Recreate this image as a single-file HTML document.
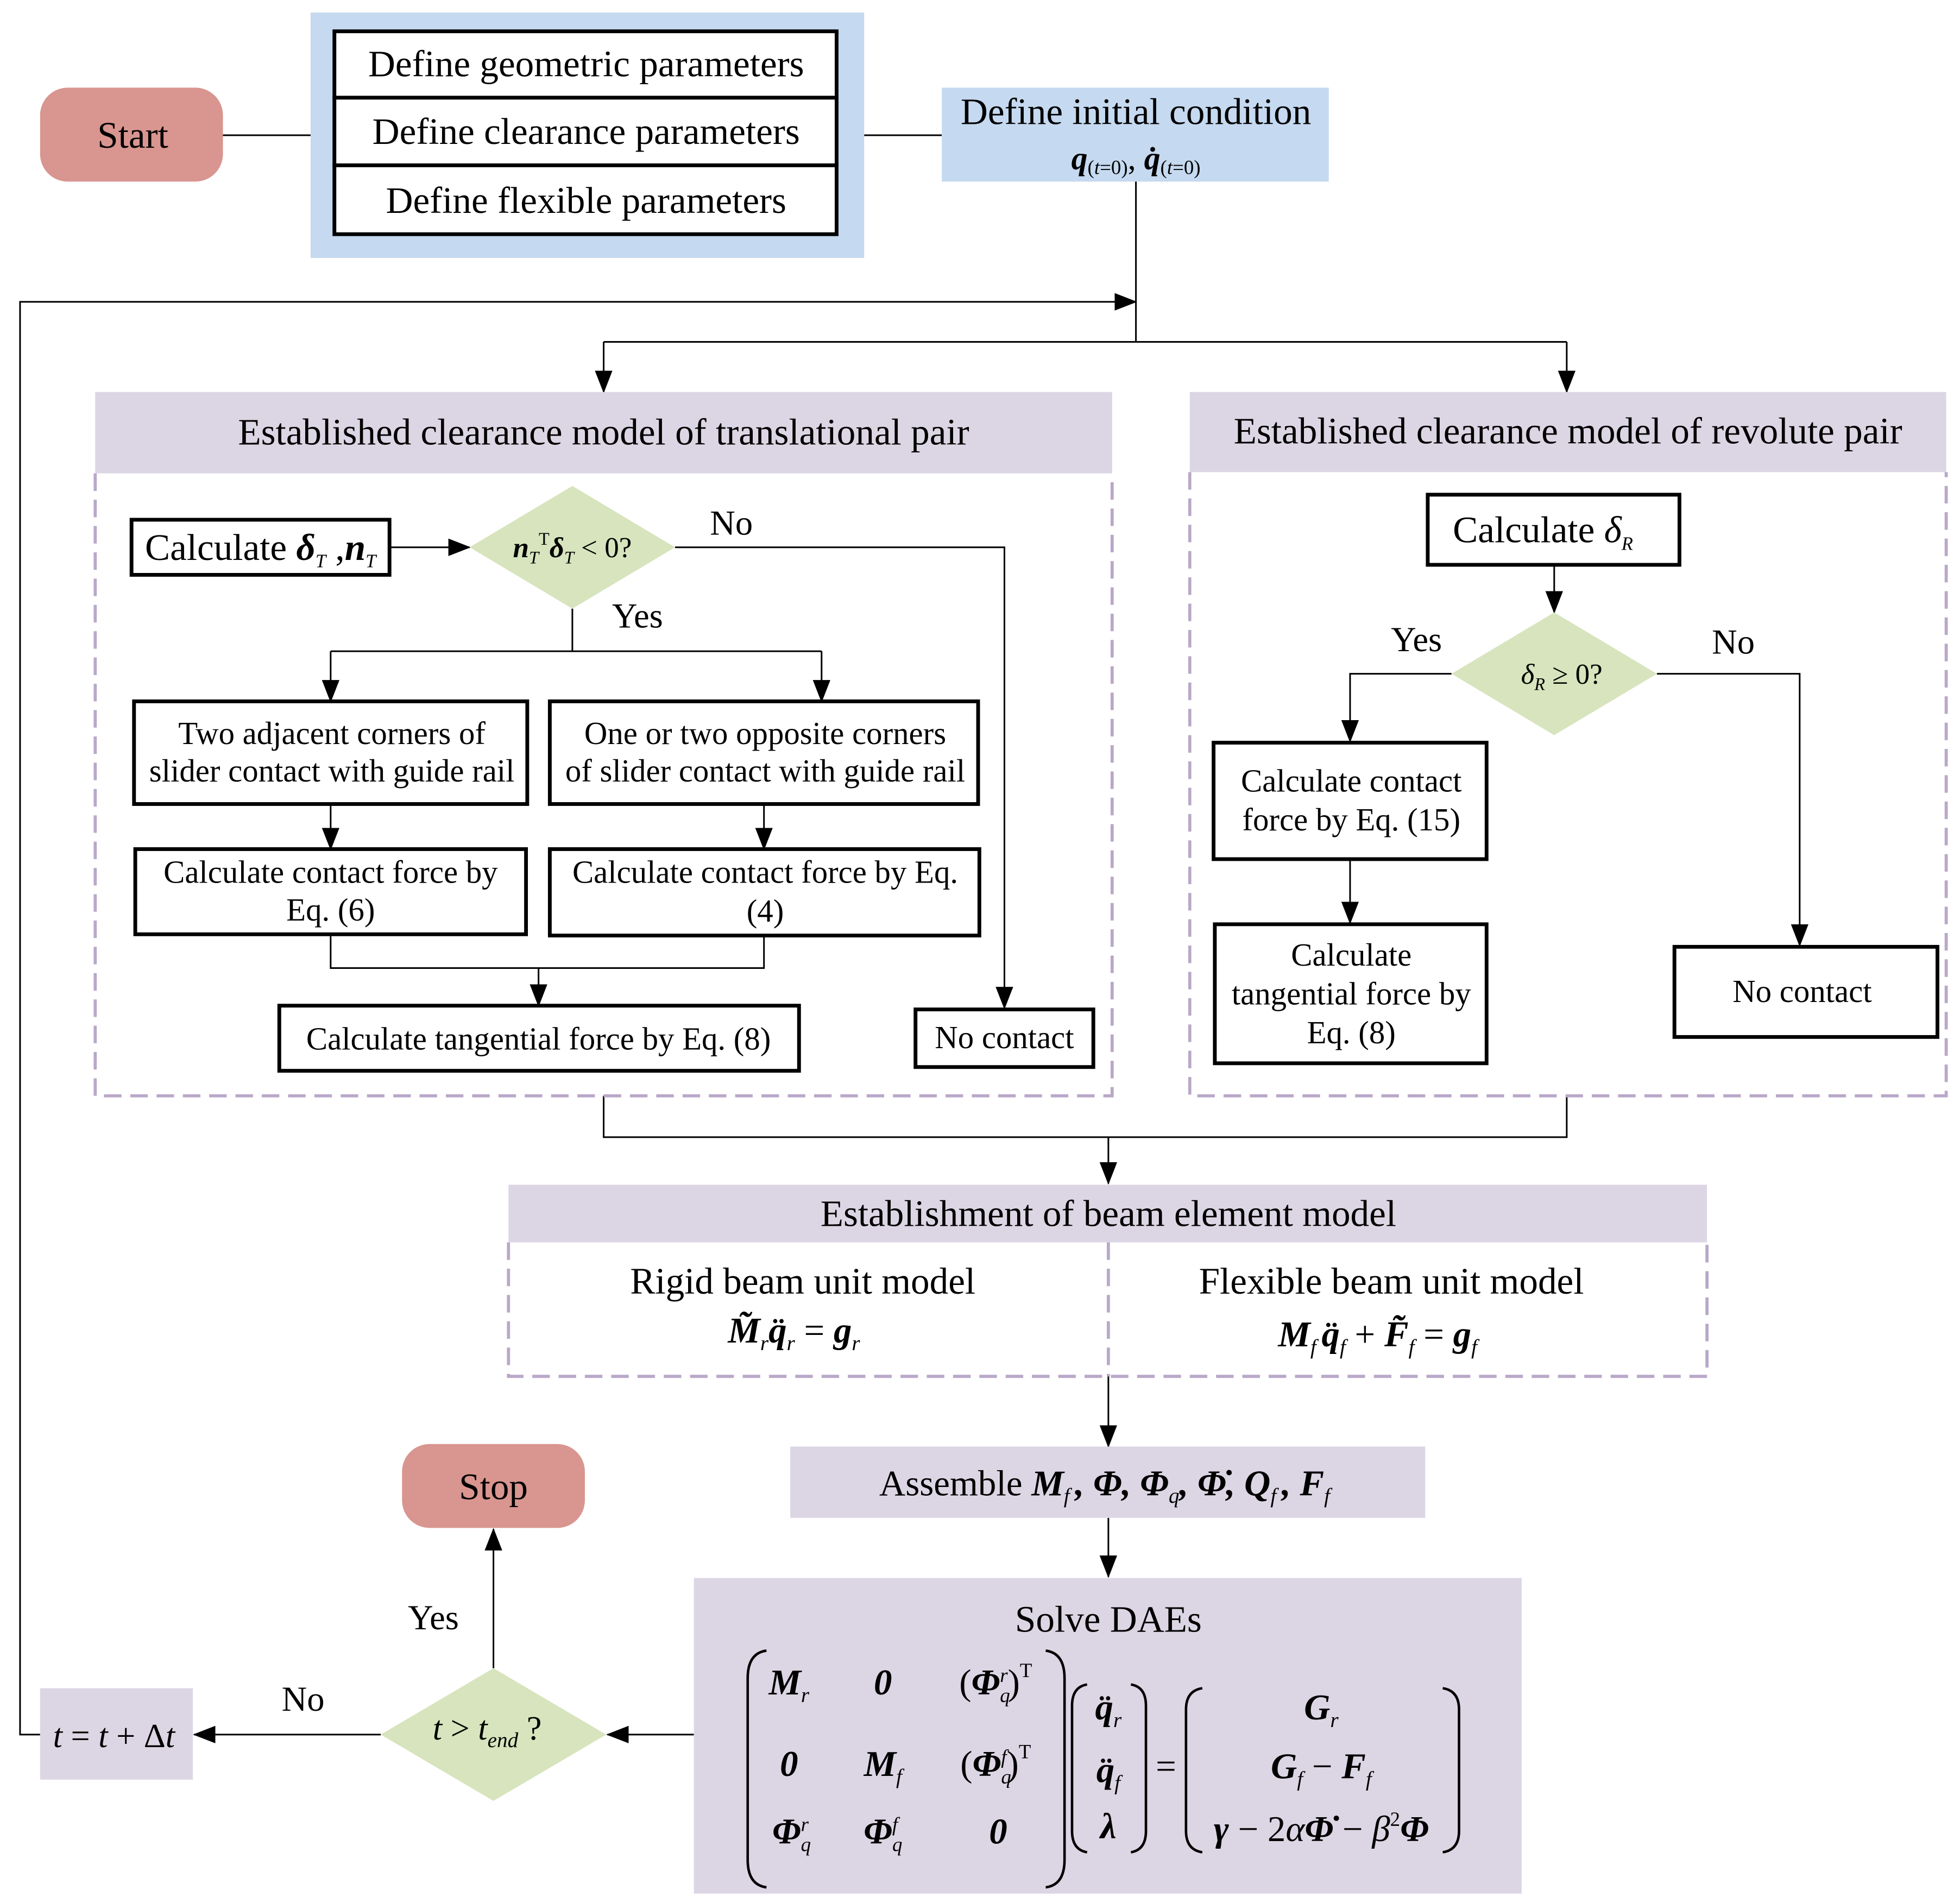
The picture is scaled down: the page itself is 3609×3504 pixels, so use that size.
<!DOCTYPE html>
<html><head><meta charset="utf-8"><style>html,body{margin:0;padding:0;background:#fff}svg{display:block}</style></head><body>
<svg xmlns="http://www.w3.org/2000/svg" width="3609" height="3504" viewBox="0 0 1565 1519.5" font-family="Liberation Serif, serif">
<defs><marker id="b" markerWidth="18" markerHeight="14" refX="17" refY="7" orient="auto" markerUnits="userSpaceOnUse"><path d="M0,0 L18,7 L0,14 z" fill="#000"/></marker></defs>
<g stroke="#000" stroke-width="1.3" fill="none">
<line x1="178" y1="108" x2="248" y2="108"/><line x1="690" y1="108" x2="752" y2="108"/>
<polyline points="907,145 907,273"/>
<polyline points="32,1385 16,1385 16,241 907,241" marker-end="url(#b)"/>
<line x1="482" y1="273" x2="1251" y2="273"/>
<line x1="482" y1="273" x2="482" y2="313" marker-end="url(#b)"/>
<line x1="1251" y1="273" x2="1251" y2="313" marker-end="url(#b)"/>
<line x1="311" y1="437" x2="375" y2="437" marker-end="url(#b)"/>
<polyline points="539,437 802,437 802,805" marker-end="url(#b)"/>
<polyline points="457,486 457,520"/><line x1="264" y1="520" x2="656" y2="520"/>
<line x1="264" y1="520" x2="264" y2="560" marker-end="url(#b)"/>
<line x1="656" y1="520" x2="656" y2="560" marker-end="url(#b)"/>
<line x1="264" y1="642" x2="264" y2="678" marker-end="url(#b)"/>
<line x1="610" y1="642" x2="610" y2="678" marker-end="url(#b)"/>
<polyline points="264,746 264,773 610,773 610,747"/>
<line x1="430" y1="773" x2="430" y2="803" marker-end="url(#b)"/>
<line x1="1241" y1="451" x2="1241" y2="489" marker-end="url(#b)"/>
<polyline points="1159,538 1078,538 1078,592" marker-end="url(#b)"/>
<polyline points="1323,538 1437,538 1437,755" marker-end="url(#b)"/>
<line x1="1078" y1="686" x2="1078" y2="737" marker-end="url(#b)"/>
<polyline points="482,875 482,908 1251,908 1251,875"/>
<line x1="885" y1="908" x2="885" y2="945" marker-end="url(#b)"/>
<line x1="885" y1="1099" x2="885" y2="1155" marker-end="url(#b)"/>
<line x1="885" y1="1212" x2="885" y2="1259" marker-end="url(#b)"/>
<line x1="554" y1="1385" x2="485" y2="1385" marker-end="url(#b)"/>
<line x1="394" y1="1332" x2="394" y2="1221" marker-end="url(#b)"/>
<line x1="304" y1="1385" x2="155" y2="1385" marker-end="url(#b)"/>
</g>
<rect x="32" y="70" width="146" height="75" rx="22" fill="#d9958f"/>
<rect x="321" y="1153" width="146" height="67" rx="22" fill="#d9958f"/>
<rect x="248" y="10" width="442" height="196" fill="#c5d9f0"/>
<g fill="#fff" stroke="#000" stroke-width="3"><rect x="267" y="25" width="401" height="53"/><rect x="267" y="78" width="401" height="54"/><rect x="267" y="132" width="401" height="55"/></g>
<rect x="752" y="70" width="309" height="75" fill="#c5d9f0"/>
<g fill="#dcd6e4"><rect x="76" y="313" width="812" height="65"/><rect x="950" y="313" width="604" height="64"/><rect x="406" y="946" width="957" height="46"/><rect x="631" y="1155" width="507" height="57"/><rect x="554" y="1260" width="661" height="252"/><rect x="32" y="1348" width="122" height="73"/></g>
<g fill="none" stroke="#b9a8c9" stroke-width="2.5" stroke-dasharray="14,7"><polyline points="76,378 76,875 888,875 888,378"/><polyline points="950,377 950,875 1554,875 1554,377"/><polyline points="406,992 406,1099 1363,1099 1363,992"/><line x1="885" y1="992" x2="885" y2="1099"/></g>
<g fill="#d7e4bd"><polygon points="375,437 457,388 539,437 457,486"/><polygon points="1159,538 1241,489 1323,538 1241,587"/><polygon points="304,1385 394,1332 484,1385 394,1438"/></g>
<g fill="#fff" stroke="#000" stroke-width="3"><rect x="105" y="415" width="206" height="44"/><rect x="107" y="560" width="314" height="82"/><rect x="439" y="560" width="342" height="82"/><rect x="108" y="678" width="312" height="68"/><rect x="439" y="678" width="343" height="69"/><rect x="223" y="803" width="415" height="52"/><rect x="731" y="806" width="142" height="46"/><rect x="1140" y="395" width="201" height="56"/><rect x="969" y="593" width="218" height="93"/><rect x="970" y="738" width="217" height="111"/><rect x="1337" y="756" width="210" height="72"/></g>
<g text-anchor="middle" font-size="30" fill="#000">
<text x="106" y="118">Start</text><text x="394" y="1197">Stop</text>
<text x="468" y="61">Define geometric parameters</text><text x="468" y="115">Define clearance parameters</text><text x="468" y="170">Define flexible  parameters</text>
<text x="907" y="99">Define initial condition</text>
<text x="907" y="135" font-size="26"><tspan font-weight="bold" font-style="italic">q</tspan><tspan font-size="16" dy="4">(<tspan font-style="italic">t</tspan>=0)</tspan><tspan dy="-4">, </tspan><tspan font-weight="bold" font-style="italic">q̇</tspan><tspan font-size="16" dy="4">(<tspan font-style="italic">t</tspan>=0)</tspan></text>
<text x="482" y="355">Established clearance model of translational pair</text>
<text x="1252" y="354">Established clearance model of revolute pair</text>
<text x="208" y="447">Calculate <tspan font-style="italic" font-weight="bold">δ</tspan><tspan font-size="15" dy="6" font-style="italic">T</tspan><tspan dy="-6"> ,</tspan><tspan font-style="italic" font-weight="bold">n</tspan><tspan font-size="15" dy="6" font-style="italic">T</tspan></text>
<text x="1232" y="433">Calculate   <tspan font-style="italic">δ</tspan><tspan font-size="15" dy="6" font-style="italic">R</tspan></text>
<text x="584" y="427" font-size="28">No</text><text x="509" y="501" font-size="28">Yes</text>
<text x="1131" y="520" font-size="28">Yes</text><text x="1384" y="522" font-size="28">No</text>
<text x="242" y="1366" font-size="28">No</text><text x="346" y="1301" font-size="28">Yes</text>
<text x="885" y="979">Establishment of beam element model</text>
<text x="641" y="1033">Rigid beam unit model</text><text x="1111" y="1033">Flexible beam unit model</text>
<text x="885" y="1303">Solve DAEs</text>
</g>
<g text-anchor="middle" font-size="25.5">
<text x="457" y="445" font-size="23"><tspan font-weight="bold" font-style="italic">n</tspan><tspan font-size="14" dy="5" font-style="italic">T</tspan><tspan font-size="14" dy="-15">T</tspan><tspan font-weight="bold" font-style="italic" dy="10">δ</tspan><tspan font-size="14" dy="5" font-style="italic">T</tspan><tspan dy="-5"> &lt; 0?</tspan></text>
<text x="1247" y="546" font-size="23"><tspan font-style="italic">δ</tspan><tspan font-size="14" dy="5" font-style="italic">R</tspan><tspan dy="-5"> ≥ 0?</tspan></text>
<text x="389" y="1389" font-size="27"><tspan font-style="italic">t</tspan> &gt; <tspan font-style="italic">t</tspan><tspan font-size="17" font-style="italic" dy="6">end</tspan><tspan dy="-6"> ?</tspan></text>
<text x="91" y="1395" font-size="27"><tspan font-style="italic">t</tspan> = <tspan font-style="italic">t</tspan> + Δ<tspan font-style="italic">t</tspan></text>
<text x="265" y="594">Two adjacent corners of</text><text x="265" y="624">slider contact with guide rail</text>
<text x="611" y="594">One or two opposite corners</text><text x="611" y="624">of slider contact with guide rail</text>
<text x="264" y="705">Calculate contact force by</text><text x="264" y="735">Eq. (6)</text>
<text x="611" y="705">Calculate contact force by Eq.</text><text x="611" y="736">(4)</text>
<text x="430" y="838">Calculate tangential force by Eq. (8)</text>
<text x="802" y="837">No contact</text>
<text x="1079" y="632">Calculate contact</text><text x="1079" y="663">force by Eq. (15)</text>
<text x="1079" y="771">Calculate</text><text x="1079" y="802">tangential force by</text><text x="1079" y="833">Eq. (8)</text>
<text x="1439" y="800">No contact</text>
</g>
<g font-size="29" font-style="italic" font-weight="bold" text-anchor="middle">
<text x="634" y="1072">M̃<tspan font-size="17" font-weight="normal" dy="6">r</tspan><tspan dy="-6">q̈</tspan><tspan font-size="17" font-weight="normal" dy="6">r</tspan><tspan dy="-6" font-weight="normal" font-style="normal"> = </tspan>g<tspan font-size="17" font-weight="normal" dy="6">r</tspan></text>
<text x="1100" y="1075">M<tspan font-size="17" font-weight="normal" dy="6">f </tspan><tspan dy="-6">q̈</tspan><tspan font-size="17" font-weight="normal" dy="6">f</tspan><tspan dy="-6" font-weight="normal" font-style="normal"> + </tspan>F̃<tspan font-size="17" font-weight="normal" dy="6">f</tspan><tspan dy="-6" font-weight="normal" font-style="normal"> = </tspan>g<tspan font-size="17" font-weight="normal" dy="6">f</tspan></text>
<text x="882" y="1194"><tspan font-weight="normal" font-style="normal">Assemble  </tspan>M<tspan font-size="17" font-weight="normal" dy="6">f </tspan><tspan dy="-6">, Φ, Φ</tspan><tspan font-size="17" font-weight="normal" dy="6">q</tspan><tspan dy="-6">, Φ̇, Q</tspan><tspan font-size="17" font-weight="normal" dy="6">f </tspan><tspan dy="-6">, F</tspan><tspan font-size="17" font-weight="normal" dy="6">f</tspan></text>
<text x="630" y="1353">M<tspan font-size="17" font-weight="normal" dy="6">r</tspan></text><text x="705" y="1353">0</text>
<text x="795" y="1353"><tspan font-weight="normal" font-style="normal">(</tspan>Φ<tspan font-size="16" font-weight="normal" dy="6">q</tspan><tspan font-size="16" font-weight="normal" dx="-8" dy="-16">r</tspan><tspan font-weight="normal" font-style="normal" dy="10">)</tspan><tspan font-size="16" font-weight="normal" font-style="normal" dy="-14">T</tspan></text>
<text x="630" y="1418">0</text><text x="705" y="1418">M<tspan font-size="17" font-weight="normal" dy="6">f</tspan></text>
<text x="795" y="1418"><tspan font-weight="normal" font-style="normal">(</tspan>Φ<tspan font-size="16" font-weight="normal" dy="6">q</tspan><tspan font-size="16" font-weight="normal" dx="-8" dy="-16">f</tspan><tspan font-weight="normal" font-style="normal" dy="10">)</tspan><tspan font-size="16" font-weight="normal" font-style="normal" dy="-14">T</tspan></text>
<text x="632" y="1472">Φ<tspan font-size="16" font-weight="normal" dy="6">q</tspan><tspan font-size="16" font-weight="normal" dx="-8" dy="-16">r</tspan></text>
<text x="705" y="1472">Φ<tspan font-size="16" font-weight="normal" dy="6">q</tspan><tspan font-size="16" font-weight="normal" dx="-8" dy="-16">f</tspan></text>
<text x="797" y="1472">0</text>
<text x="885" y="1373">q̈<tspan font-size="17" font-weight="normal" dy="6">r</tspan></text>
<text x="885" y="1423">q̈<tspan font-size="17" font-weight="normal" dy="6">f</tspan></text>
<text x="885" y="1468">λ</text>
<text x="931" y="1420" font-weight="normal" font-style="normal">=</text>
<text x="1055" y="1373">G<tspan font-size="17" font-weight="normal" dy="6">r</tspan></text>
<text x="1055" y="1420">G<tspan font-size="17" font-weight="normal" dy="6">f</tspan><tspan dy="-6" font-weight="normal" font-style="normal"> − </tspan>F<tspan font-size="17" font-weight="normal" dy="6">f</tspan></text>
<text x="1055" y="1470">γ<tspan font-weight="normal" font-style="normal"> − 2</tspan><tspan font-weight="normal">α</tspan>Φ̇<tspan font-weight="normal" font-style="normal"> − </tspan><tspan font-weight="normal">β</tspan><tspan font-size="16" font-weight="normal" font-style="normal" dy="-12">2</tspan><tspan dy="12">Φ</tspan></text>
</g>
<g fill="none" stroke="#000" stroke-width="2">
<path d="M612,1318 Q597,1320 597,1340 L597,1485 Q597,1505 612,1507"/>
<path d="M835,1318 Q850,1320 850,1340 L850,1485 Q850,1505 835,1507"/>
<path d="M868,1345 Q856,1347 856,1362 L856,1462 Q856,1477 868,1479"/>
<path d="M903,1345 Q915,1347 915,1362 L915,1462 Q915,1477 903,1479"/>
<path d="M960,1348 Q947,1350 947,1365 L947,1462 Q947,1477 960,1479"/>
<path d="M1152,1348 Q1165,1350 1165,1365 L1165,1462 Q1165,1477 1152,1479"/>
</g>
</svg>
</body></html>
